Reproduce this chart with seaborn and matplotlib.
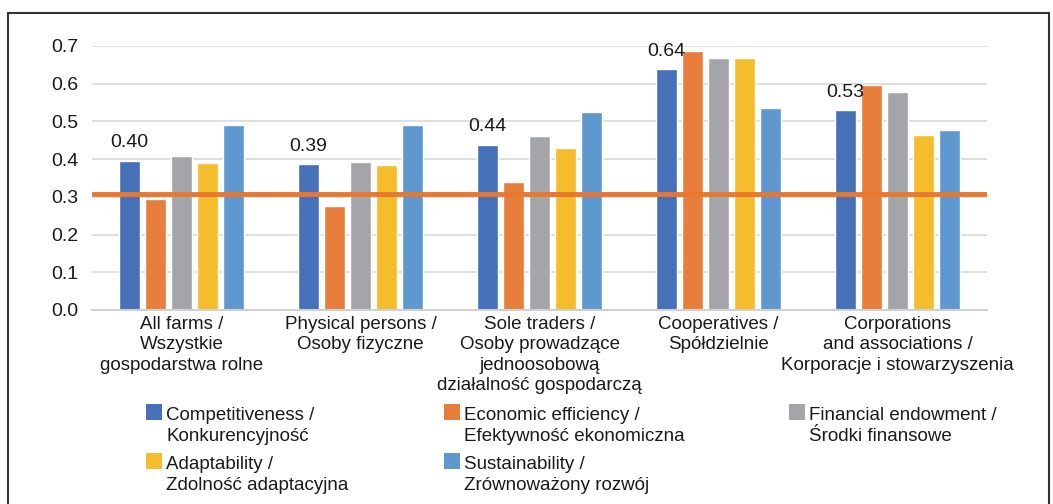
import numpy as np
import pandas as pd
import matplotlib.pyplot as plt
import seaborn as sns
from matplotlib.patches import Rectangle

# === DATA ===
categories = [
    "All farms /\nWszystkie\ngospodarstwa rolne",
    "Physical persons /\nOsoby fizyczne",
    "Sole traders /\nOsoby prowadzące\njednoosobową\ndziałalność gospodarczą",
    "Cooperatives /\nSpółdzielnie",
    "Corporations\nand associations /\nKorporacje i stowarzyszenia",
]
series_names = [
    "Competitiveness /\nKonkurencyjność",
    "Economic efficiency /\nEfektywność ekonomiczna",
    "Financial endowment /\nŚrodki finansowe",
    "Adaptability /\nZdolność adaptacyjna",
    "Sustainability /\nZrównoważony rozwój",
]
competitiveness = [0.396, 0.386, 0.438, 0.638, 0.529]
economic_efficiency = [0.293, 0.277, 0.340, 0.687, 0.596]
financial_endowment = [0.409, 0.393, 0.461, 0.668, 0.577]
adaptability = [0.390, 0.384, 0.429, 0.668, 0.464]
sustainability = [0.490, 0.490, 0.526, 0.535, 0.477]
reference_level = 0.307

colors = ["#4670B8", "#E87E3C", "#A4A5A8", "#F5BC2B", "#5E98CE"]
line_color = "#E8772F"

values = [competitiveness, economic_efficiency, financial_endowment,
          adaptability, sustainability]
rows = []
for name, vals in zip(series_names, values):
    for cat, v in zip(categories, vals):
        rows.append({"category": cat, "series": name, "value": v})
df = pd.DataFrame(rows)

# === STYLE ===
sns.set_theme(style="white")
plt.rcParams["font.family"] = ["Liberation Sans", "DejaVu Sans"]
text_color = "#1a1a1a"

fig = plt.figure(figsize=(10.53, 5.04), dpi=100)
ax = fig.add_axes([92 / 1053, (504 - 310) / 504, (987 - 92) / 1053, 264 / 504])

sns.barplot(data=df, x="category", y="value", hue="series", order=categories,
            hue_order=series_names, palette=colors, width=0.73, gap=0.2,
            saturation=1, legend=False, ax=ax, zorder=2)

ax.set_ylim(0, 0.7)
ax.set_xlim(-0.5, 4.5)
ax.set_yticks(np.arange(0, 0.71, 0.1))
ax.set_yticklabels([f"{t:.1f}" for t in np.arange(0, 0.71, 0.1)])
ax.yaxis.grid(True, color="#d9d9d9", linewidth=1.2, zorder=0)
ax.set_axisbelow(True)
ax.tick_params(axis="y", length=0, pad=10, labelsize=14, labelcolor=text_color)
ax.tick_params(axis="x", length=0, pad=4, labelsize=13.5, labelcolor=text_color)
for lbl in ax.get_xticklabels():
    lbl.set_linespacing(1.27)
ax.set_xlabel("")
ax.set_ylabel("")
for s in ["left", "top", "right"]:
    ax.spines[s].set_visible(False)
ax.spines["bottom"].set_color("#d0d0d0")
ax.spines["bottom"].set_linewidth(1.5)

# reference line
ax.axhline(reference_level, color=line_color, linewidth=3.5, zorder=5)

# value labels above the first series
for bar, v in zip(ax.containers[0], competitiveness):
    ax.annotate(f"{v:.2f}", (bar.get_x() + bar.get_width() / 2, bar.get_height()),
                xytext=(0, 7), textcoords="offset points", ha="center", va="bottom",
                fontsize=14, color=text_color)

# === legend (manual, 3 columns) ===
col_x = [146, 444, 789]
row_y = [404, 453]
for i, (name, c) in enumerate(zip(series_names, colors)):
    px = col_x[i % 3]
    py = row_y[i // 3]
    fig.add_artist(Rectangle((px / 1053, 1 - (py + 16) / 504), 16 / 1053, 16 / 504,
                             transform=fig.transFigure, facecolor=c, edgecolor="none"))
    fig.text((px + 20) / 1053, 1 - (py + 3) / 504, name, ha="left", va="top",
             fontsize=13.5, color=text_color, linespacing=1.3)

# frame
fig.add_artist(Rectangle((8 / 1053, -0.1), (1049 - 8) / 1053, 1.1 - 13 / 504,
                         transform=fig.transFigure, fill=False,
                         edgecolor="#333333", linewidth=1.5))

fig.savefig("out.png", dpi=100)
plt.close(fig)
